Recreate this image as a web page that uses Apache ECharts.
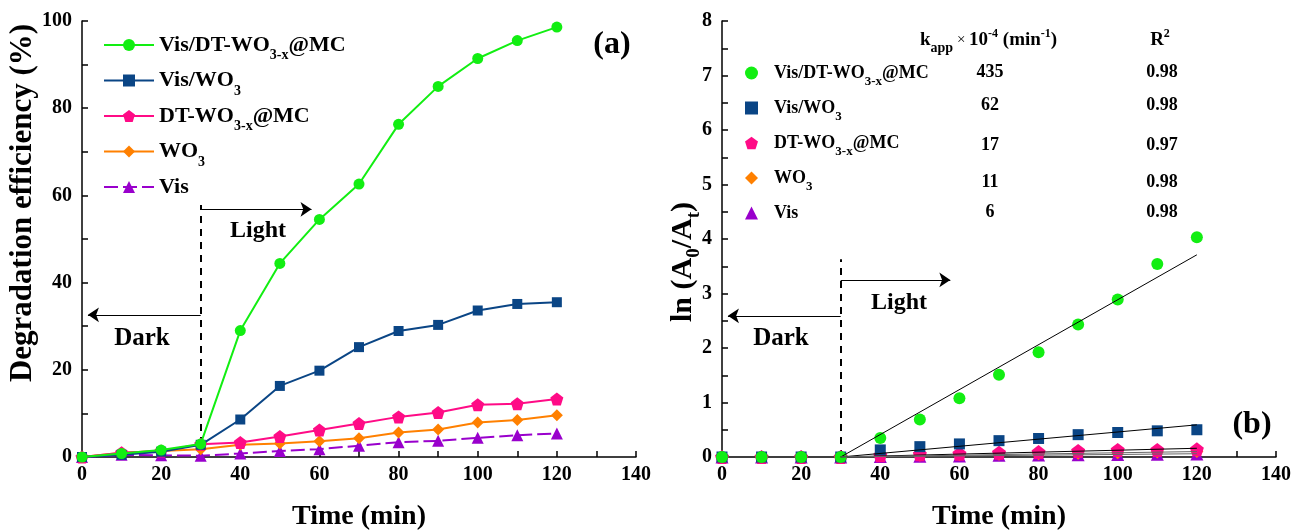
<!DOCTYPE html>
<html>
<head>
<meta charset="utf-8">
<script src="https://cdn.jsdelivr.net/npm/echarts@6/dist/echarts.min.js"></script>
<style>
html, body { margin: 0; padding: 0; background: #fff; }
#main { width: 1310px; height: 531px; }
</style>
</head>
<body>
<div id="main"></div>
<script>
// sampling times (min)
var times = [0, 10, 20, 30, 40, 50, 60, 70, 80, 90, 100, 110, 120];

// (a) degradation efficiency (%)
var effVisDT  = [0, 0.8, 1.6, 3.0, 29.0, 44.4, 54.5, 62.6, 76.3, 85.0, 91.4, 95.5, 98.6];
var effVisWO3 = [0, 0.5, 1.2, 2.8, 8.6, 16.3, 19.8, 25.2, 28.9, 30.3, 33.6, 35.1, 35.5];
var effDT     = [0, 1.0, 1.4, 2.9, 3.3, 4.7, 6.2, 7.7, 9.2, 10.2, 12.0, 12.2, 13.3];
var effWO3    = [0, 1.0, 1.4, 1.8, 2.8, 3.1, 3.6, 4.3, 5.6, 6.3, 7.9, 8.5, 9.6];
var effVis    = [0, 0.5, 0.4, 0.3, 0.8, 1.4, 1.8, 2.6, 3.4, 3.7, 4.4, 5.0, 5.4];

// (b) ln(A0/At)
var lnVisDT  = [0, 0, 0, 0, 0.35, 0.69, 1.08, 1.51, 1.92, 2.43, 2.89, 3.54, 4.03];
var lnVisWO3 = [0, 0, 0, 0, 0.13, 0.19, 0.24, 0.30, 0.34, 0.41, 0.45, 0.48, 0.50];
var lnDT     = [0, 0, 0, 0, 0.03, 0.05, 0.06, 0.08, 0.09, 0.11, 0.13, 0.13, 0.14];
var lnWO3    = [0, 0, 0, 0, 0.03, 0.03, 0.04, 0.05, 0.06, 0.07, 0.08, 0.09, 0.10];
var lnVis    = [0, 0, 0, 0, 0.01, 0.015, 0.02, 0.03, 0.035, 0.04, 0.045, 0.05, 0.055];

// linear fits, drawn from t = 30 to t = 120
var fitTimes = [30, 120];
var fitEnds  = [3.71, 0.59, 0.16, 0.10, 0.06];

var kApp = ['435', '62', '17', '11', '6'];
var r2   = ['0.98', '0.98', '0.97', '0.98', '0.98'];

var names   = ['Vis/DT-WO3-x@MC', 'Vis/WO3', 'DT-WO3-x@MC', 'WO3', 'Vis'];
var bNames  = names.map(function (n) { return 'b ' + n; });
var colors  = ['#12ee12', '#0a4585', '#ff0b86', '#ff8000', '#9900cc'];
var pentagon = 'path://M50,0 L97.6,34.5 L79.4,90.5 L20.6,90.5 L2.4,34.5 Z';
var symbols = ['circle', 'rect', pentagon, 'diamond', 'triangle'];
var symSize = [11, 10, 13, 12, 12];

var effData = [effVisDT, effVisWO3, effDT, effWO3, effVis];
var lnData  = [lnVisDT, lnVisWO3, lnDT, lnWO3, lnVis];

var FONT = 'Liberation Serif, Times New Roman, serif';

function pairs(xs, ys) {
    return xs.map(function (x, i) { return [x, ys[i]]; });
}

// rich label with subscripts
var richNames = {
    'Vis/DT-WO3-x@MC': '{m|Vis/DT-WO}{s|3-x}{m|@MC}',
    'Vis/WO3': '{m|Vis/WO}{s|3}',
    'DT-WO3-x@MC': '{m|DT-WO}{s|3-x}{m|@MC}',
    'WO3': '{m|WO}{s|3}',
    'Vis': '{m|Vis}'
};

function richStyle(size, subSize, subH) {
    return {
        m: { fontFamily: FONT, fontWeight: 'bold', fontSize: size, lineHeight: 26, color: '#000' },
        s: { fontFamily: FONT, fontWeight: 'bold', fontSize: subSize, height: subH, lineHeight: 4, verticalAlign: 'bottom', color: '#000' },
        p: { width: 11 }
    };
}

function xAxisOf(grid) {
    return {
        gridIndex: grid, type: 'value', min: 0, max: 140, interval: 10,
        axisLine: { lineStyle: { color: '#000', width: 1.5 } },
        axisTick: { inside: true, length: 6, lineStyle: { color: '#000', width: 1.5 } },
        axisLabel: {
            color: '#000', fontFamily: FONT, fontWeight: 'bold', fontSize: 20, margin: 8,
            formatter: function (v) { return v % 20 === 0 ? v : ''; }
        },
        splitLine: { show: false },
        name: 'Time (min)', nameLocation: 'middle', nameGap: 46,
        nameTextStyle: { color: '#000', fontFamily: FONT, fontWeight: 'bold', fontSize: 28 }
    };
}

function yAxisOf(grid, max, step) {
    return {
        gridIndex: grid, type: 'value', min: 0, max: max, interval: step,
        axisLine: { show: true, lineStyle: { color: '#000', width: 1.5 } },
        axisTick: { show: true, inside: true, length: 6, lineStyle: { color: '#000', width: 1.5 } },
        axisLabel: {
            color: '#000', fontFamily: FONT, fontWeight: 'bold', fontSize: 20, margin: 10,
            formatter: function (v) { return Math.abs(v / (2 * step) - Math.round(v / (2 * step))) < 1e-6 ? v : ''; }
        },
        splitLine: { show: false }
    };
}

var series = [];

names.forEach(function (n, i) {
    series.push({
        name: n, type: 'line', xAxisIndex: 0, yAxisIndex: 0,
        data: pairs(times, effData[i]),
        symbol: symbols[i], symbolSize: symSize[i],
        itemStyle: { color: colors[i] },
        lineStyle: { color: colors[i], width: 2, type: i === 4 ? [14, 5] : 'solid' },
        z: 10 - i
    });
});

names.forEach(function (n, i) {
    series.push({
        name: bNames[i], type: 'scatter', xAxisIndex: 1, yAxisIndex: 1,
        data: pairs(times, lnData[i]),
        symbol: symbols[i], symbolSize: symSize[i] + 1,
        itemStyle: { color: colors[i], opacity: 1 },
        z: 10 - i
    });
    series.push({
        name: 'fit ' + n, type: 'line', xAxisIndex: 1, yAxisIndex: 1,
        data: pairs(fitTimes, [0, fitEnds[i]]),
        symbol: 'none', silent: true,
        lineStyle: { color: i < 3 ? '#000' : '#666', width: 1 },
        z: 20
    });
});

var guide = { color: '#000', width: 1.2, type: 'solid' };
var dashGuide = { color: '#000', width: 2, type: [7, 6] };

// guide lines and arrows, (a)
series.push({
    type: 'line', xAxisIndex: 0, yAxisIndex: 0, data: [], silent: true,
    markLine: {
        silent: true, label: { show: false }, animation: false,
        data: [
            [{ coord: [30, 0], symbol: 'none', lineStyle: dashGuide }, { coord: [30, 57.8], symbol: 'none' }],
            [{ coord: [30, 56.8], symbol: 'none', lineStyle: guide }, { coord: [58, 56.8], symbol: 'arrow', symbolSize: 11 }],
            [{ coord: [30, 32.6], symbol: 'none', lineStyle: guide }, { coord: [1.5, 32.6], symbol: 'arrow', symbolSize: 11 }]
        ]
    }
});
// guide lines and arrows, (b)
series.push({
    type: 'line', xAxisIndex: 1, yAxisIndex: 1, data: [], silent: true,
    markLine: {
        silent: true, label: { show: false }, animation: false,
        data: [
            [{ coord: [30, 0], symbol: 'none', lineStyle: dashGuide }, { coord: [30, 3.63], symbol: 'none' }],
            [{ coord: [30, 3.25], symbol: 'none', lineStyle: guide }, { coord: [57.7, 3.25], symbol: 'arrow', symbolSize: 11 }],
            [{ coord: [30, 2.59], symbol: 'none', lineStyle: guide }, { coord: [1.5, 2.59], symbol: 'arrow', symbolSize: 11 }]
        ]
    }
});

var rowY = [72, 105, 145, 182, 212];
var tableTexts = [];
kApp.forEach(function (k, i) {
    tableTexts.push({
        type: 'text', x: 990, y: rowY[i],
        style: { text: k, fontFamily: FONT, fontWeight: 'bold', fontSize: 18, fill: '#000', align: 'center', verticalAlign: 'middle' }
    });
    tableTexts.push({
        type: 'text', x: 1162, y: rowY[i],
        style: { text: r2[i], fontFamily: FONT, fontWeight: 'bold', fontSize: 18, fill: '#000', align: 'center', verticalAlign: 'middle' }
    });
});

function label(txt, x, y, size) {
    return {
        type: 'text', x: x, y: y,
        style: { text: txt, fontFamily: FONT, fontWeight: 'bold', fontSize: size, fill: '#000', align: 'center', verticalAlign: 'middle' }
    };
}

var option = {
    backgroundColor: '#ffffff',
    animation: false,
    grid: [
        { left: 82, top: 21, width: 554, height: 436, outerBoundsMode: 'none' },
        { left: 722, top: 21, width: 554, height: 436, outerBoundsMode: 'none' }
    ],
    xAxis: [xAxisOf(0), xAxisOf(1)],
    yAxis: [yAxisOf(0, 100, 10), yAxisOf(1, 8, 0.5)],
    legend: [{
        data: names, orient: 'vertical', left: 98, top: 29,
        itemWidth: 50, itemHeight: 15, itemGap: 7,
        formatter: function (n) { return richNames[n]; },
        textStyle: { rich: richStyle(22, 14, 5) }
    }, {
        data: bNames, orient: 'vertical', left: 740, top: 59,
        itemWidth: 13, itemHeight: 13, itemGap: 11,
        formatter: function (n) { return '{p|}' + richNames[n.slice(2)]; },
        textStyle: { rich: richStyle(18, 13, 9) }
    }],
    graphic: [
        {
            type: 'text', x: 23, y: 203, rotation: Math.PI / 2,
            style: { text: 'Degradation efficiency (%)', fontFamily: FONT, fontWeight: 'bold', fontSize: 31, fill: '#000', align: 'center', verticalAlign: 'middle' }
        },
        {
            type: 'text', x: 683, y: 262, rotation: Math.PI / 2,
            style: {
                text: '{m|ln (A}{s|0}{m|/A}{s|t}{m|)}', align: 'center', verticalAlign: 'middle',
                rich: {
                    m: { fontFamily: FONT, fontWeight: 'bold', fontSize: 30, lineHeight: 32, fill: '#000' },
                    s: { fontFamily: FONT, fontWeight: 'bold', fontSize: 19, height: 10, lineHeight: 4, verticalAlign: 'bottom', fill: '#000' }
                }
            }
        },
        label('(a)', 612, 45, 32),
        label('(b)', 1252, 425, 32),
        label('Light', 258, 231, 24),
        label('Dark', 142, 339, 25),
        label('Light', 899, 303, 24),
        label('Dark', 781, 339, 25),
        {
            type: 'text', x: 920, y: 40,
            style: {
                text: '{m|k}{s|app}{x| × }{m|10}{u|-4}{m| (min}{u|-1}{m|)}', align: 'left', verticalAlign: 'middle',
                rich: {
                    m: { fontFamily: FONT, fontWeight: 'bold', fontSize: 19, lineHeight: 24, fill: '#000' },
                    s: { fontFamily: FONT, fontWeight: 'bold', fontSize: 14, height: 7, lineHeight: 4, verticalAlign: 'bottom', fill: '#000' },
                    x: { fontFamily: FONT, fontSize: 15, lineHeight: 24, fill: '#000' },
                    u: { fontFamily: FONT, fontWeight: 'bold', fontSize: 12, lineHeight: 10, verticalAlign: 'top', fill: '#000' }
                }
            }
        },
        {
            type: 'text', x: 1160, y: 40,
            style: {
                text: '{m|R}{u|2}', align: 'center', verticalAlign: 'middle',
                rich: {
                    m: { fontFamily: FONT, fontWeight: 'bold', fontSize: 19, lineHeight: 24, fill: '#000' },
                    u: { fontFamily: FONT, fontWeight: 'bold', fontSize: 12, lineHeight: 10, verticalAlign: 'top', fill: '#000' }
                }
            }
        }
    ].concat(tableTexts),
    series: series
};

var chart = echarts.init(document.getElementById('main'), null, { renderer: 'canvas' });
chart.setOption(option);
</script>
</body>
</html>
